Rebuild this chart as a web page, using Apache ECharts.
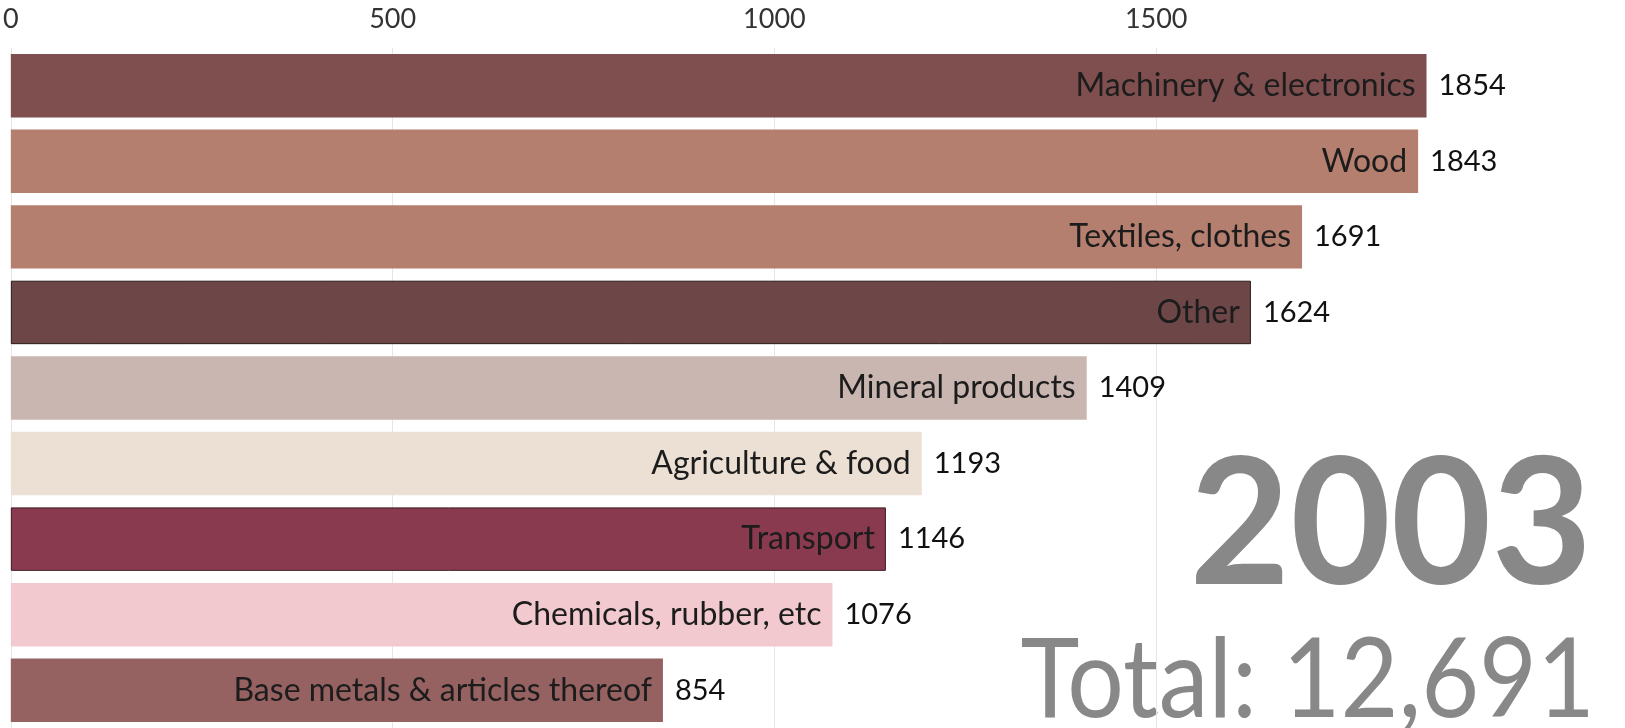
<!DOCTYPE html>
<html>
<head>
<meta charset="utf-8">
<script src="https://cdn.jsdelivr.net/npm/echarts@6/dist/echarts.min.js"></script>
<style>
  html, body { margin: 0; padding: 0; background: #fff; }
  #chart { width: 1625px; height: 728px; }
</style>
</head>
<body>
<div id="chart"></div>
<script>
const categories = [
  'Machinery & electronics',
  'Wood',
  'Textiles, clothes',
  'Other',
  'Mineral products',
  'Agriculture & food',
  'Transport',
  'Chemicals, rubber, etc',
  'Base metals & articles thereof'
]
const values = [1854, 1843, 1691, 1624, 1409, 1193, 1146, 1076, 854]
const xTicks = [0, 500, 1000, 1500]
const year = '2003'
const totalText = 'Total: 12,691'

// colours per category, same order as above
const barColors = ['#7f4e4e', '#b57f6f', '#b57f6f', '#6d4748', '#c9b6b0', '#ece0d5', '#8a3a4f', '#f2c9cf', '#966261']
const barBorders = [null, null, null, '#2a1a1a', null, null, '#3a1a22', null, null]

const FONT = 'Lato, "Noto Sans", sans-serif'

const chart = echarts.init(document.getElementById('chart'))

const option = {
  backgroundColor: '#ffffff',
  animation: false,
  grid: {
    left: 8,
    top: 48,
    width: 1530,
    height: 684,
  },
  xAxis: {
    type: 'value',
    position: 'top',
    min: 0,
    max: 2000,
    interval: 500,
    axisLine: { show: false },
    axisTick: { show: false },
    axisLabel: {
      fontFamily: FONT,
      fontSize: 27,
      color: '#333',
      margin: 15,
      showMaxLabel: false,
      formatter: (v) => (xTicks.includes(v) ? String(v) : ''),
    },
    splitLine: {
      showMaxLine: false,
      lineStyle: { color: '#e6e6e6', width: 1 },
    },
  },
  yAxis: {
    type: 'category',
    data: categories,
    inverse: true,
    show: false,
  },
  series: [
    {
      name: 'names',
      type: 'bar',
      barCategoryGap: '16%',
      data: values.map((v, i) => ({
        value: v,
        itemStyle: {
          color: barColors[i],
          borderColor: barBorders[i] || barColors[i],
          borderWidth: barBorders[i] ? 1 : 0,
        },
      })),
      label: {
        show: true,
        position: 'insideRight',
        distance: 11,
        fontFamily: FONT,
        fontSize: 32,
        color: '#1c1c1c',
        formatter: (p) => p.name,
      },
    },
    {
      name: 'values',
      type: 'bar',
      barGap: '-100%',
      barCategoryGap: '16%',
      silent: true,
      data: values,
      itemStyle: { color: 'transparent' },
      label: {
        show: true,
        position: 'right',
        distance: 12,
        fontFamily: FONT,
        fontSize: 29,
        color: '#111',
        formatter: (p) => String(p.value),
      },
    },
  ],
  graphic: [
    {
      type: 'text',
      x: 1592,
      y: 438,
      scaleX: 0.98,
      style: {
        text: year,
        fontFamily: FONT,
        fontWeight: 'bold',
        fontSize: 177,
        fill: '#888888',
        align: 'right',
        verticalAlign: 'top',
      },
    },
    {
      type: 'text',
      x: 1595,
      y: 626,
      scaleX: 0.9,
      style: {
        text: totalText,
        fontFamily: FONT,
        fontSize: 111,
        fill: '#888888',
        align: 'right',
        verticalAlign: 'top',
      },
    },
  ],
}

chart.setOption(option)
</script>
</body>
</html>
